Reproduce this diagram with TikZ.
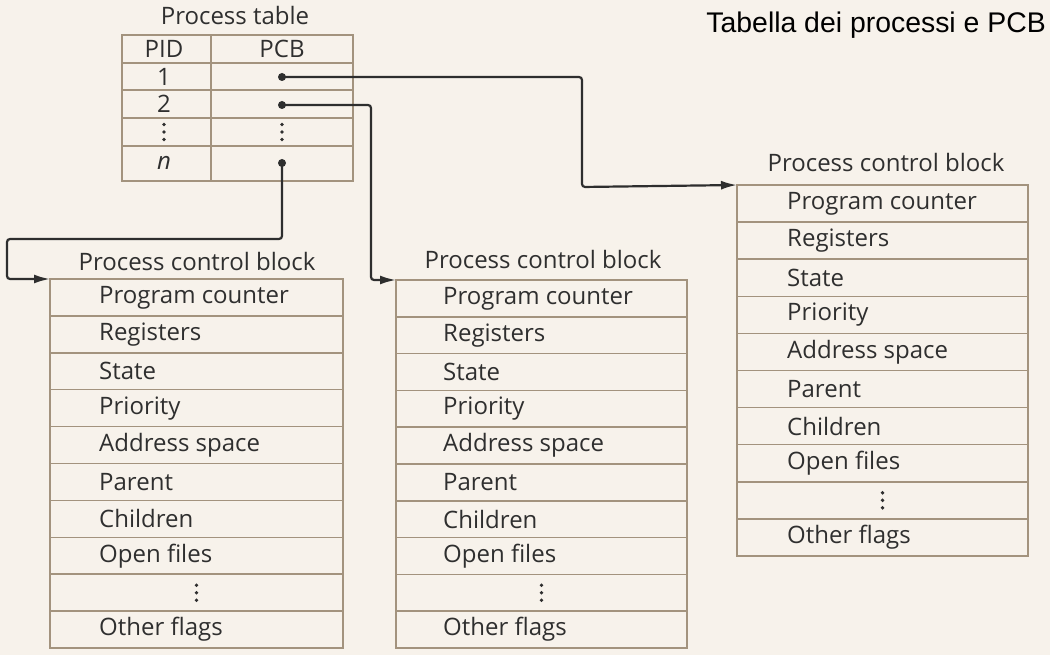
\documentclass[tikz,border=0pt]{standalone}
\usepackage{fontspec}
\setmainfont{Open Sans}
\newfontfamily\arialf{Liberation Sans}
\usetikzlibrary{arrows.meta}
\definecolor{paper}{HTML}{F7F2EB}
\definecolor{tline}{HTML}{A3937E}
\definecolor{ink}{HTML}{2E2E2E}
\definecolor{txt}{HTML}{2F2F2F}
\tikzset{
  tabline/.style={draw=tline, line width=1.5pt},
  cell/.style={anchor=west, inner sep=0pt, text=txt, font=\fontsize{24}{27}\selectfont},
  ccell/.style={anchor=center, inner sep=0pt, text=txt, font=\fontsize{24}{27}\selectfont},
  pcbtitle/.style={anchor=center, inner sep=0pt, text=txt, font=\fontsize{24}{27}\selectfont},
  conn/.style={draw=ink, line width=2.2pt, rounded corners=3pt, -{Latex[length=16pt,width=9pt]}},
  dotm/.style={circle, fill=ink, inner sep=0pt, minimum size=8pt},
  vdot/.style={circle, fill=txt, inner sep=0pt, minimum size=3.8pt},
}
\newcommand{\vdotsat}[3]{% #1 name, #2 x, #3 y
  \coordinate (#1) at ({#2},{#3});
  \node[vdot] at ({#2},{#3-7.5}) {};
  \node[vdot] at ({#2},{#3}) {};
  \node[vdot] at ({#2},{#3+7.5}) {};
}
\def\vdmark{VD}
\newcommand{\pcbbox}[6]{% #1 name, #2 left x, #3 top y, #4 row h, #5 width, #6 text indent
  \coordinate (#1) at (#2,#3);
  \foreach \lab [count=\i from 0] in {Program counter,Registers,State,Priority,Address space,Parent,Children,Open files,VD,Other flags}{
    \draw[tabline] (#2,{#3+\i*#4}) rectangle ({#2+#5},{#3+(\i+1)*#4});
    \ifx\lab\vdmark
      \vdotsat{#1-\i}{#2+#5/2}{#3+(\i+0.5)*#4}
    \else
      \node[cell] (#1-\i) at ({#2+#6},{#3+(\i+0.5)*#4}) {\lab};
    \fi
  }
}
\begin{document}
\begin{tikzpicture}[x=1pt,y=-1pt]
\fill[paper] (0,0) rectangle (1050,655);
\useasboundingbox (0,0) rectangle (1050,655);

% title
\node[anchor=east, inner sep=0pt, text=black, font=\arialf\fontsize{28.4}{31}\selectfont] (title) at (1046,25) {Tabella dei processi e PCB};

% process table
\node[pcbtitle] (pttitle) at (235,16) {Process table};
\draw[tabline] (122,35) rectangle (353,181);
\draw[tabline] (211,35) -- (211,181);
\foreach \yy in {63,90,118,146} \draw[tabline] (122,\yy) -- (353,\yy);
\node[ccell] (pid) at (164,49) {PID};
\node[ccell] (pcb) at (282,49) {PCB};
\node[ccell] (r1) at (164,77) {1};
\node[ccell] (r2) at (164,104) {2};
\vdotsat{r3}{164}{132}
\vdotsat{r3b}{282}{132}
\node[ccell] (rn) at (164,163) {\itshape n};
\node[dotm] (d1) at (282,77) {};
\node[dotm] (d2) at (282,105) {};
\node[dotm] (dn) at (282,163) {};

% PCB boxes
\pcbbox{pa}{50}{279}{36.9}{293}{49}
\node[pcbtitle] (pat) at (197,262) {Process control block};
\pcbbox{pb}{396}{280}{36.8}{291}{47}
\node[pcbtitle] (pbt) at (543,260) {Process control block};
\pcbbox{pc}{737}{185}{37.1}{291}{50}
\node[pcbtitle] (pct) at (886,163) {Process control block};

% connectors
\draw[conn] (d1.center) -- (582,77) -- (582,187) -- (pc);
\draw[conn] (d2.center) -- (371,105) -- (371,280) -- (pb);
\draw[conn] (dn.center) -- (282,239) -- (7,239) -- (7,279) -- (pa);
\end{tikzpicture}
\end{document}
